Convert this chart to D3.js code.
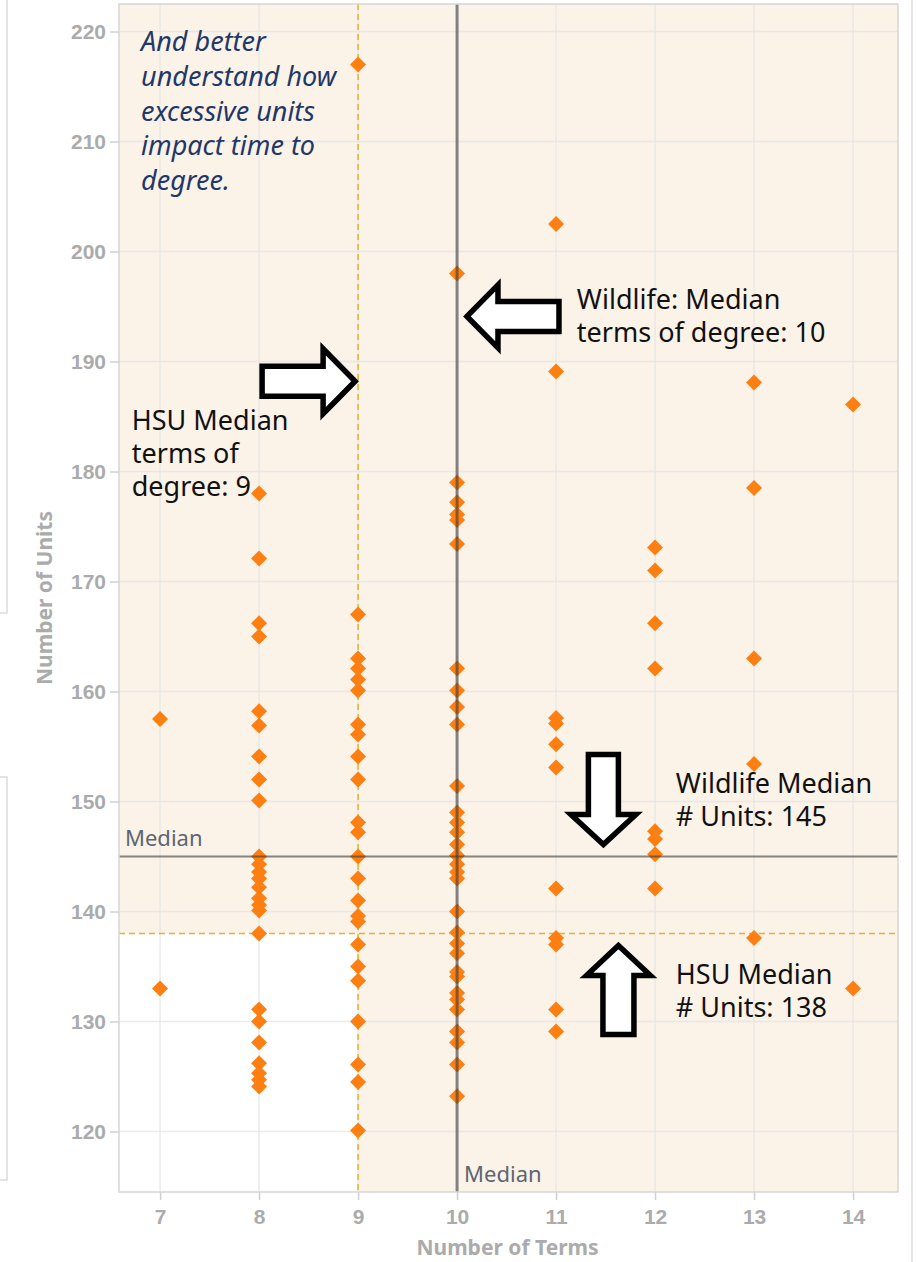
<!DOCTYPE html>
<html>
<head>
<meta charset="utf-8">
<script src="https://cdn.jsdelivr.net/npm/d3@7"></script>
<style>
    body { margin: 0; background: #fff; }
    #chart { width: 916px; height: 1262px; }
</style>
</head>
<body>
<div id="chart"></div>
<script>

// DATA: number of units per student, grouped by number of terms
const termTicks = [7, 8, 9, 10, 11, 12, 13, 14];
const unitTicks = [120, 130, 140, 150, 160, 170, 180, 190, 200, 210, 220];

const units7 = [157.5, 133];
const units8 = [178, 172.1, 166.2, 165, 158.2, 156.9, 154.1, 152, 150.1, 145, 144.3, 143.6, 143, 142.2,
    141.2, 140.6, 140.1, 138, 131.1, 130, 128.1, 126.2, 125.3, 124.7, 124.1];
const units9 = [217, 167, 163, 162.1, 161.1, 160.1, 157, 156.1, 154.1, 152, 148.1, 147.2, 145, 143, 141,
    139.6, 139.1, 137, 135, 133.7, 130, 126.1, 124.5, 120.1];
const units10 = [198, 179, 177.2, 176.1, 175.6, 173.4, 162.1, 160.1, 158.6, 157, 151.4, 149, 148.1, 147.2,
    146.1, 145.1, 144.3, 143.6, 143, 140, 138.1, 137.1, 136.2, 134.5, 134.1, 132.6, 132, 131.1, 129.1,
    128.1, 126.1, 123.2];
const units11 = [202.5, 189.1, 157.6, 157.1, 155.2, 153.1, 142.1, 137.6, 137, 131.1, 129.1];
const units12 = [173.1, 171, 166.2, 162.1, 147.3, 146.6, 145.2, 142.1];
const units13 = [188.1, 178.5, 163, 153.4, 137.6];
const units14 = [186.1, 133];

// medians: program (solid) and campus (dashed)
const wildlifeMedian = { terms: 10, units: 145 };
const hsuMedian = { terms: 9, units: 138 };

const notes = [
    { terms: 6.808, units: 218.2, lines: ["And better", "understand how", "excessive units", "impact time to", "degree."], cls: "note-blue" },
    { terms: 6.714, units: 183.8, lines: ["HSU Median", "terms of", "degree: 9"], cls: "note" },
    { terms: 11.21, units: 194.8, lines: ["Wildlife: Median", "terms of degree: 10"], cls: "note" },
    { terms: 12.21, units: 150.8, lines: ["Wildlife Median", "# Units: 145"], cls: "note" },
    { terms: 12.21, units: 133.4, lines: ["HSU Median", "# Units: 138"], cls: "note" }
];

// arrows: tip position in data space, direction, sizes in px
const arrows = [
    { terms: 10.1, units: 194.1, dir: "left", len: 92, head: 31, headW: 63, shaftW: 30 },
    { terms: 8.97, units: 188.2, dir: "right", len: 93, head: 32, headW: 65, shaftW: 30 },
    { terms: 11.478, units: 146.1, dir: "down", len: 90, head: 30, headW: 65, shaftW: 30 },
    { terms: 11.63, units: 136.9, dir: "up", len: 89, head: 30, headW: 64, shaftW: 31 }
];

const columns = [units7, units8, units9, units10, units11, units12, units13, units14];
const points = [];
columns.forEach((col, i) => col.forEach(u => points.push({ terms: termTicks[i], units: u })));


// VIEW
const settings = {
    width: 916,
    height: 1262,
    left: 119,
    right: 898,
    top: 4,
    bottom: 1192,
    band: "#fbf2e8",
    orange: "#fd7f12",
    gold: "#e3b42c",
    tickColor: "#ababab"
};

const x = d3.scaleLinear().domain([6.585, 14.454]).range([settings.left, settings.right]);
const y = d3.scaleLinear().domain([114.5, 222.5]).range([settings.bottom, settings.top]);

const svg = d3.select("#chart").append("svg")
    .attr("width", settings.width)
    .attr("height", settings.height)
    .attr("style", "font-family: 'Noto Sans', sans-serif;");

svg.append("style").text(`
    .note { font-size: 27px; fill: #111; }
    .note-blue { font-size: 27px; fill: #1f3868; font-style: italic; }
    .tick text { font-size: 21px; font-weight: bold; fill: ${settings.tickColor}; }
    .median-label { font-size: 22px; fill: #5d6672; }
`);

// dashboard frame remnants
const frame = svg.append("g").attr("stroke", "#dcdcdc").attr("stroke-width", 1.5).attr("fill", "none");
frame.append("path").attr("d", "M7,0V613H0");
frame.append("path").attr("d", "M0,777H7V1180H0");
frame.append("path").attr("d", "M912,0V1262");

// plot background: white, tan where terms > 9 or units > 138
svg.append("rect")
    .attr("x", settings.left).attr("y", settings.top)
    .attr("width", settings.right - settings.left).attr("height", settings.bottom - settings.top)
    .attr("fill", "#fff");

svg.append("rect")
    .attr("x", x(hsuMedian.terms)).attr("y", settings.top)
    .attr("width", settings.right - x(hsuMedian.terms)).attr("height", settings.bottom - settings.top)
    .attr("fill", settings.band);

svg.append("rect")
    .attr("x", settings.left).attr("y", settings.top)
    .attr("width", x(hsuMedian.terms) - settings.left).attr("height", y(hsuMedian.units) - settings.top)
    .attr("fill", settings.band);

// grid
const grid = svg.append("g").attr("stroke", "#e4e4e4").attr("stroke-opacity", 0.75).attr("stroke-width", 1.5);
grid.selectAll(".gx").data(termTicks).join("line")
    .attr("x1", d => x(d)).attr("x2", d => x(d))
    .attr("y1", settings.top).attr("y2", settings.bottom);
grid.selectAll(".gy").data(unitTicks).join("line")
    .attr("x1", settings.left).attr("x2", settings.right)
    .attr("y1", d => y(d)).attr("y2", d => y(d));

// HSU median reference lines (dashed)
svg.append("line")
    .attr("x1", x(hsuMedian.terms)).attr("x2", x(hsuMedian.terms))
    .attr("y1", settings.top).attr("y2", settings.bottom)
    .attr("stroke", settings.gold).attr("stroke-width", 1.5).attr("stroke-dasharray", "6,4");
svg.append("line")
    .attr("x1", settings.left).attr("x2", settings.right)
    .attr("y1", y(hsuMedian.units)).attr("y2", y(hsuMedian.units))
    .attr("stroke", settings.gold).attr("stroke-width", 1.5).attr("stroke-dasharray", "6,4");

// points
const diamond = "M0,-8L8,0L0,8L-8,0Z";
svg.append("g")
    .selectAll("path")
    .data(points)
    .join("path")
    .attr("d", diamond)
    .attr("transform", d => `translate(${x(d.terms)},${y(d.units)})`)
    .attr("fill", settings.orange);

// Wildlife median lines (solid, drawn over points)
svg.append("line")
    .attr("x1", x(wildlifeMedian.terms)).attr("x2", x(wildlifeMedian.terms))
    .attr("y1", settings.top).attr("y2", settings.bottom)
    .attr("stroke", "#3a3a3a").attr("stroke-opacity", 0.6).attr("stroke-width", 3);
svg.append("line")
    .attr("x1", settings.left).attr("x2", settings.right)
    .attr("y1", y(wildlifeMedian.units)).attr("y2", y(wildlifeMedian.units))
    .attr("stroke", "#3a3a3a").attr("stroke-opacity", 0.6).attr("stroke-width", 2.2);

svg.append("text").attr("class", "median-label")
    .attr("x", settings.left + 6).attr("y", y(wildlifeMedian.units) - 11)
    .text("Median");
svg.append("text").attr("class", "median-label")
    .attr("x", x(wildlifeMedian.terms) + 7).attr("y", settings.bottom - 10)
    .text("Median");

// plot border
svg.append("rect")
    .attr("x", settings.left).attr("y", settings.top)
    .attr("width", settings.right - settings.left).attr("height", settings.bottom - settings.top)
    .attr("fill", "none").attr("stroke", "#d6d6d6").attr("stroke-width", 1.5);

// axes
const xAxis = svg.append("g")
    .attr("transform", `translate(0,${settings.bottom})`)
    .call(d3.axisBottom(x).tickValues(termTicks).tickSize(8).tickPadding(9));
const yAxis = svg.append("g")
    .attr("transform", `translate(${settings.left},0)`)
    .call(d3.axisLeft(y).tickValues(unitTicks).tickSize(9).tickPadding(4));

[xAxis, yAxis].forEach(a => {
    a.select(".domain").remove();
    a.selectAll(".tick line").attr("stroke", "#d0d0d0").attr("stroke-width", 1.5);
});

svg.append("text")
    .attr("x", (settings.left + settings.right) / 2 - 1).attr("y", 1255)
    .attr("text-anchor", "middle")
    .style("font-size", "21px").style("font-weight", "bold").style("fill", settings.tickColor)
    .text("Number of Terms");

svg.append("text")
    .attr("transform", `translate(52,${(settings.top + settings.bottom) / 2}) rotate(-90)`)
    .attr("text-anchor", "middle")
    .style("font-size", "21px").style("font-weight", "bold").style("fill", settings.tickColor)
    .text("Number of Units");

// annotations
const noteG = svg.append("g");
notes.forEach(n => {
    const t = noteG.append("text").attr("class", n.cls)
        .attr("x", x(n.terms)).attr("y", y(n.units));
    t.selectAll("tspan").data(n.lines).join("tspan")
        .attr("x", x(n.terms))
        .attr("dy", (d, i) => i === 0 ? 0 : (n.cls === "note-blue" ? 34.6 : 33))
        .text(d => d);
});

const arrowPath = function (a) {
    // arrow pointing left, tip at origin
    const pts = [[0, 0], [a.head, -a.headW / 2], [a.head, -a.shaftW / 2], [a.len, -a.shaftW / 2],
        [a.len, a.shaftW / 2], [a.head, a.shaftW / 2], [a.head, a.headW / 2]];
    return "M" + pts.map(p => p.join(",")).join("L") + "Z";
};
const angle = { left: 0, right: 180, up: 90, down: -90 };

svg.append("g")
    .selectAll("path")
    .data(arrows)
    .join("path")
    .attr("d", arrowPath)
    .attr("transform", d => `translate(${x(d.terms)},${y(d.units)}) rotate(${angle[d.dir]})`)
    .attr("fill", "#fff")
    .attr("stroke", "#000")
    .attr("stroke-width", 5.5)
    .attr("stroke-linejoin", "miter");

</script>
</body>
</html>
